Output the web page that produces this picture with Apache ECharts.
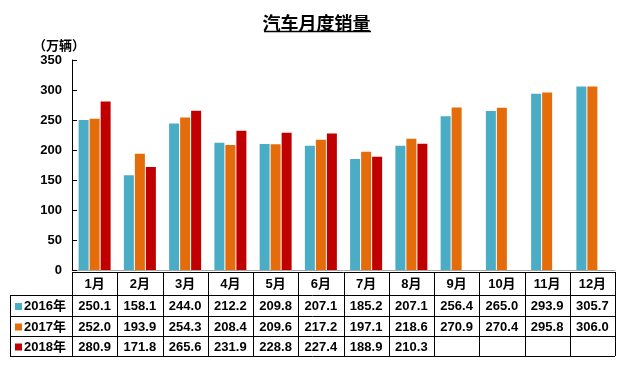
<!DOCTYPE html>
<html>
<head>
<meta charset="utf-8">
<script src="https://cdn.jsdelivr.net/npm/echarts@6/dist/echarts.min.js"></script>
<style>
  html, body { margin: 0; padding: 0; background: #fff; }
  #main { width: 633px; height: 377px; }
</style>
</head>
<body>
<div id="main"></div>
<script>
const months = ['1月', '2月', '3月', '4月', '5月', '6月', '7月', '8月', '9月', '10月', '11月', '12月'];
const years = ['2016年', '2017年', '2018年'];
const sales2016 = [250.1, 158.1, 244.0, 212.2, 209.8, 207.1, 185.2, 207.1, 256.4, 265.0, 293.9, 305.7];
const sales2017 = [252.0, 193.9, 254.3, 208.4, 209.6, 217.2, 197.1, 218.6, 270.9, 270.4, 295.8, 306.0];
const sales2018 = [280.9, 171.8, 265.6, 231.9, 228.8, 227.4, 188.9, 210.3, null, null, null, null];
const colors = ['#4BACC6', '#E46C0A', '#C00000'];

const FONT = '"Liberation Sans", "Noto Sans CJK SC", sans-serif';
const allSeries = [sales2016, sales2017, sales2018];

const chart = echarts.init(document.getElementById('main'));

chart.setOption({
    animation: false,
    color: colors,
    textStyle: { fontFamily: FONT },
    title: {
        text: '汽车月度销量',
        left: 'center',
        top: 9,
        textStyle: { fontSize: 18, fontWeight: 'bold', color: '#000', fontFamily: '"Noto Sans CJK SC", sans-serif' }
    },
    grid: { left: 72, right: 18, top: 60, bottom: 107 },
    xAxis: {
        type: 'category',
        data: months,
        axisLine: { lineStyle: { color: '#a6a6a6', width: 1 } },
        axisTick: { show: false },
        axisLabel: { show: false }
    },
    yAxis: {
        type: 'value',
        min: 0,
        max: 350,
        interval: 50,
        splitLine: { show: false },
        axisLine: { show: true, lineStyle: { color: '#000' } },
        axisTick: { show: true, inside: true, length: 5, lineStyle: { color: '#000' } },
        axisLabel: { color: '#000', fontWeight: 'bold', fontSize: 13, margin: 10, fontFamily: FONT }
    },
    series: years.map((y, i) => ({
        name: y,
        type: 'bar',
        data: allSeries[i],
        barWidth: 10,
        barGap: '10%'
    }))
});

// data table under the axis, aligned with category slots
function buildTable() {
    const grid = chart.getModel().getComponent('grid').coordinateSystem.getRect();
    const x0 = grid.x;
    const x1 = grid.x + grid.width;
    const cw = grid.width / months.length;
    const left = 10;
    const rows = [272, 295, 316, 336, 356];
    const els = [];
    const line = (ax, ay, bx, by) => els.push({
        type: 'line', silent: true,
        shape: { x1: ax, y1: ay, x2: bx, y2: by },
        style: { stroke: '#000', lineWidth: 1 }
    });
    const text = (t, x, y, align) => els.push({
        type: 'text', silent: true,
        style: { text: t, x: x, y: y, align: align || 'center', verticalAlign: 'middle',
                 fill: '#000', font: 'bold 13px ' + FONT }
    });

    // horizontal lines
    line(x0, rows[0] + 0.5, x1, rows[0] + 0.5);
    for (let r = 1; r < rows.length; r++) line(left, rows[r] + 0.5, x1, rows[r] + 0.5);
    // vertical lines
    line(left + 0.5, rows[1], left + 0.5, rows[4]);
    for (let c = 0; c <= months.length; c++) {
        const x = Math.round(x0 + c * cw) + 0.5;
        line(x, rows[0], x, rows[4]);
    }
    // header
    months.forEach((m, c) => text(m, x0 + (c + 0.5) * cw, (rows[0] + rows[1]) / 2 + 1));
    // rows
    years.forEach((y, r) => {
        const cy = (rows[r + 1] + rows[r + 2]) / 2 + 1;
        els.push({
            type: 'rect', silent: true,
            shape: { x: 15, y: cy - 3.5, width: 7, height: 7 },
            style: { fill: colors[r] }
        });
        text(y, 24, cy, 'left');
        allSeries[r].forEach((v, c) => {
            if (v != null) text(v.toFixed(1), x0 + (c + 0.5) * cw, cy);
        });
    });
    // unit label and title underline
    text('（万辆）', 33, 46, 'left');
    els.push({
        type: 'line', silent: true,
        shape: { x1: 264, y1: 31.5, x2: 371, y2: 31.5 },
        style: { stroke: '#000', lineWidth: 1.5 }
    });

    chart.setOption({ graphic: els });
}
buildTable();
</script>
</body>
</html>
